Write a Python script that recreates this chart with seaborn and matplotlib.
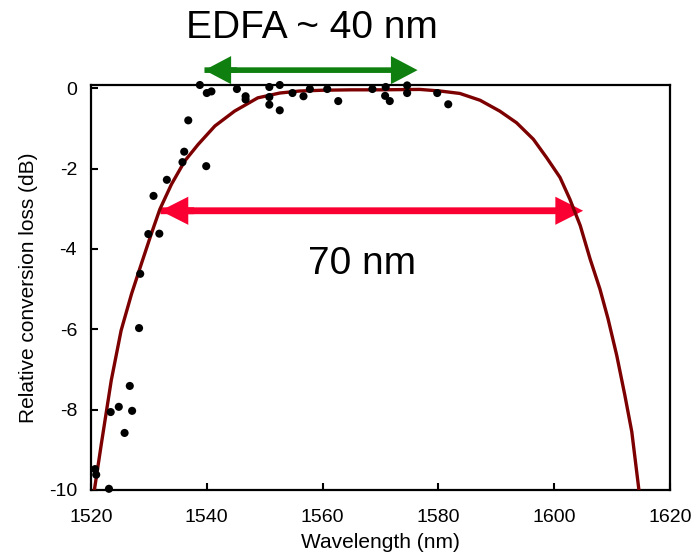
import numpy as np
import pandas as pd
import matplotlib
matplotlib.use("Agg")
import matplotlib.pyplot as plt
import seaborn as sns
from matplotlib.patches import FancyArrow

# measured points (wavelength in nm, relative conversion loss in dB)
meas_wl = [1520.7, 1520.9, 1523.1, 1523.4, 1524.8, 1525.8, 1527.1, 1526.7,
           1528.3, 1528.5, 1529.9, 1531.8, 1530.8, 1533.1, 1535.8, 1536.1,
           1539.9, 1536.8, 1538.8, 1540.0, 1540.8, 1545.2, 1546.7, 1546.7,
           1550.8, 1550.8, 1550.8, 1552.6, 1552.6, 1554.8, 1556.7, 1557.8,
           1560.8, 1562.7, 1568.6, 1570.9, 1570.8, 1571.6, 1574.6, 1574.6,
           1579.8, 1581.7]
meas_loss = [-9.48, -9.62, -9.97, -8.06, -7.93, -8.58, -8.03, -7.41,
             -5.97, -4.62, -3.63, -3.62, -2.68, -2.28, -1.84, -1.58,
             -1.94, -0.80, 0.08, -0.12, -0.08, -0.02, -0.20, -0.28,
             0.03, -0.22, -0.41, 0.08, -0.55, -0.12, -0.20, -0.02,
             -0.02, -0.32, -0.02, 0.03, -0.19, -0.32, 0.07, -0.12,
             -0.12, -0.40]

# simulated curve
sim_wl = [1520.5, 1521.8, 1523.5, 1525.2, 1527.0, 1528.7, 1530.4, 1531.9,
          1533.9, 1536.2, 1538.5, 1541.4, 1544.8, 1548.8, 1552.6, 1556.0,
          1560.0, 1565.0, 1570.0, 1576.8, 1580.3, 1583.7, 1587.2, 1590.6,
          1593.5, 1596.4, 1598.7, 1601.0, 1602.7, 1604.5, 1606.2, 1607.9,
          1609.3, 1610.8, 1612.2, 1613.4, 1614.7]
sim_loss = [-10.08, -8.84, -7.27, -6.03, -5.12, -4.37, -3.63, -3.01,
            -2.39, -1.81, -1.40, -0.94, -0.57, -0.24, -0.12, -0.07,
            -0.05, -0.04, -0.04, -0.03, -0.07, -0.13, -0.30, -0.57,
            -0.86, -1.27, -1.73, -2.22, -2.76, -3.42, -4.25, -5.00,
            -5.74, -6.65, -7.64, -8.55, -10.08]

x_ticks = [1520, 1540, 1560, 1580, 1600, 1620]
y_ticks = [0, -2, -4, -6, -8, -10]

meas = pd.DataFrame({"wl": meas_wl, "loss": meas_loss})
sim = pd.DataFrame({"wl": sim_wl, "loss": sim_loss})

sns.set_style("ticks")
plt.rcParams['font.family'] = ['Liberation Sans', 'DejaVu Sans']
plt.rcParams['text.color'] = 'black'
plt.rcParams['axes.labelcolor'] = 'black'
plt.rcParams['xtick.color'] = 'black'
plt.rcParams['ytick.color'] = 'black'

fig = plt.figure(figsize=(6.91, 5.57), dpi=100)
ax = fig.add_axes([91 / 691, 1 - 490 / 557, (670 - 91) / 691, (490 - 85) / 557])

ax.set_xlim(1520, 1620)
ax.set_ylim(-10, 0.08)


def double_arrow(x1, x2, y, color, width, head_w, head_l, clip=True, z=2):
    # full shaft with the right head, then a short left-pointing head on top
    ax.add_patch(FancyArrow(x1, y, x2 - x1, 0, width=width, head_width=head_w,
                            head_length=head_l, length_includes_head=True,
                            color=color, lw=0, zorder=z, clip_on=clip))
    ax.add_patch(FancyArrow(x1 + head_l + 1.0, y, -(head_l + 1.0), 0,
                            width=width, head_width=head_w, head_length=head_l,
                            length_includes_head=True, color=color, lw=0,
                            zorder=z, clip_on=clip))


# red 70 nm arrow
double_arrow(1532.0, 1605.0, -3.05, '#fa0032', 0.17, 0.7, 4.8)

sns.lineplot(data=sim, x="wl", y="loss", color='#7d0000', linewidth=2.4,
             sort=False, ax=ax, zorder=3)
sns.scatterplot(data=meas, x="wl", y="loss", color='black', s=34,
                edgecolor='none', ax=ax, zorder=4, clip_on=False)

# green EDFA arrow above the axes
double_arrow(1539.6, 1576.4, 0.45, '#0f800f', 0.14, 0.7, 4.6, clip=False, z=5)

ax.text(1558.2, 1.5, 'EDFA ~ 40 nm', fontsize=28, ha='center', va='center')
ax.text(1566.8, -4.37, '70 nm', fontsize=28, ha='center', va='center')

ax.set_xticks(x_ticks)
ax.set_yticks(y_ticks)
ax.set_yticklabels([str(v) for v in y_ticks])
ax.set_xlabel('Wavelength (nm)', fontsize=15, labelpad=5)
ax.set_ylabel('Relative conversion loss (dB)', fontsize=15, labelpad=8)
ax.tick_params(axis='both', direction='in', length=5, width=1.5,
               labelsize=14, color='black')
ax.tick_params(axis='x', pad=14)
ax.tick_params(axis='y', pad=10)
for sp in ax.spines.values():
    sp.set_visible(True)
    sp.set_linewidth(1.6)
    sp.set_color('black')

fig.savefig('out.png', dpi=100)
